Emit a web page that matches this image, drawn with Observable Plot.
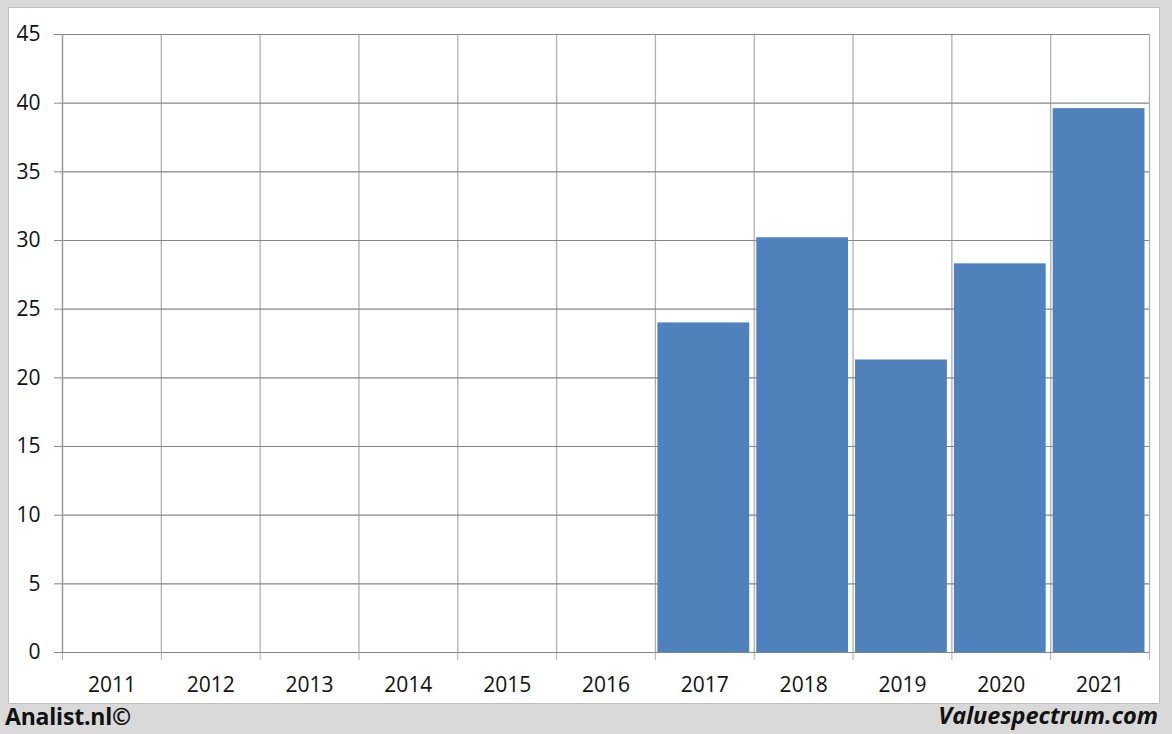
<!DOCTYPE html>
<html>
<head>
<meta charset="utf-8">
<script src="https://cdn.jsdelivr.net/npm/d3@7"></script>
<script src="https://cdn.jsdelivr.net/npm/@observablehq/plot@0.6"></script>
<style>
  html, body { margin: 0; padding: 0; }
  #frame { position: relative; width: 1172px; height: 734px; background: #d9d9d9; overflow: hidden; font-family: "Open Sans", sans-serif; }
  #panel { position: absolute; left: 8px; top: 7px; width: 1150px; height: 695px; background: #fff; border: 1px solid #bfbfbf; }
  #chart { position: absolute; left: 0; top: 0; }
  #left { position: absolute; left: 5px; top: 700px; font-size: 23px; font-weight: bold; color: #111; letter-spacing: -0.2px; }
  #right { position: absolute; right: 14px; top: 699px; font-size: 23.5px; font-weight: bold; font-style: italic; color: #111; letter-spacing: 0px; }
</style>
</head>
<body>
<div id="frame">
  <div id="panel"></div>
  <div id="chart"></div>
  <div id="left">Analist.nl©</div>
  <div id="right">Valuespectrum.com</div>
</div>
<script>
const years = [2011, 2012, 2013, 2014, 2015, 2016, 2017, 2018, 2019, 2020, 2021];
const values = [null, null, null, null, null, null, 24.0, 30.2, 21.3, 28.3, 39.6];
const yTicks = [0, 5, 10, 15, 20, 25, 30, 35, 40, 45];

const data = years.map((y, i) => ({i, year: y, value: values[i]})).filter(d => d.value != null);
const boundaries = d3.range(years.length + 1);
const centers = years.map((y, i) => i + 0.5);

const chart = Plot.plot({
  width: 1172,
  height: 703,
  marginLeft: 62,
  marginRight: 23,
  marginTop: 34,
  marginBottom: 51,
  style: {background: "transparent", fontFamily: "Open Sans, sans-serif", fontSize: "21px", color: "#111", overflow: "visible"},
  x: {type: "linear", domain: [0, years.length], label: null},
  y: {domain: [0, 45], label: null},
  marks: [
    Plot.ruleX(boundaries, {y1: 0, y2: 45, stroke: "#b0b0b0", strokeWidth: 1.3, strokeOpacity: 1}),
    Plot.axisX({ticks: boundaries, tickSize: 8, tickFormat: () => "", stroke: "#b0b0b0", strokeOpacity: 1, label: null}),
    Plot.ruleY(yTicks, {stroke: "#868686", strokeWidth: 1.1, strokeOpacity: 1}),
    Plot.axisY({ticks: yTicks, tickSize: 8, tickPadding: 14, stroke: "#868686", strokeOpacity: 1, fontSize: 21, label: null}),
    Plot.rectY(data, {x1: "i", x2: d => d.i + 1, y: "value", fill: "#4f81bd", insetLeft: 2.5, insetRight: 4.5}),
    Plot.axisX({ticks: centers, tickSize: 0, tickPadding: 25, tickFormat: d => String(years[Math.floor(d)]), fontSize: 21, label: null}),
    Plot.ruleX([0], {y1: 0, y2: 45, stroke: "#9a9a9a", strokeWidth: 1.3})
  ]
});
document.getElementById("chart").appendChild(chart);
</script>
</body>
</html>
